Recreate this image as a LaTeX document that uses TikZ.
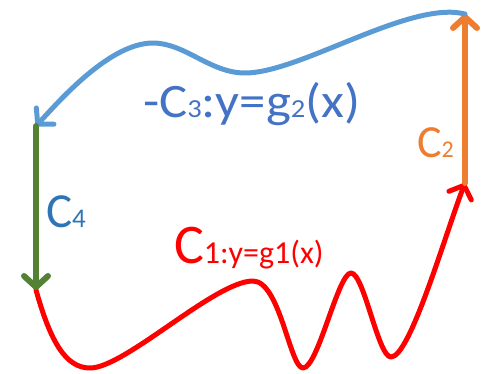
\documentclass[tikz,border=0pt]{standalone}
\usepackage{fontspec}
\usepackage{graphicx}
\setmainfont{Carlito}
\usetikzlibrary{arrows.meta}
\definecolor{cblue}{HTML}{5B9BD5}
\definecolor{cgreen}{HTML}{548235}
\definecolor{corange}{HTML}{ED7D31}
\definecolor{cred}{HTML}{FF0000}
\definecolor{tblue}{HTML}{4472C4}
\definecolor{tblueb}{HTML}{2E75B6}
\newcommand{\fs}[1]{\fontsize{#1}{#1}\selectfont}
\tikzset{
  curve/.style={line width=5pt, line cap=round, line join=round,
    -{Straight Barb[length=11pt,width=24pt,line cap=round,line join=round]}},
  lbl/.style={anchor=base west, inner sep=0pt, outer sep=0pt}
}
\begin{document}
\begin{tikzpicture}[x=1pt,y=-1pt]
\useasboundingbox (0,0) rectangle (487,373);
\coordinate (P1) at (36,290);
\coordinate (P2) at (465,183);
\coordinate (P3) at (465,14);
\coordinate (P4) at (36,126);
% C1 red
\draw[curve, cred] (P1) .. controls (50,340) and (65,368) .. (90,368)
  .. controls (125,368) and (215,281) .. (253,281)
  .. controls (280,281) and (290,368) .. (303,368)
  .. controls (318,368) and (338,273) .. (351,273)
  .. controls (364,273) and (378,357) .. (391,357)
  .. controls (410,357) and (445,235) .. (P2);
% C2 orange
\draw[curve, corange, line width=6pt] (P2) -- (P3);
% C3 blue
\draw[curve, cblue] (P3) .. controls (410,0) and (300,73) .. (245,73)
  .. controls (210,73) and (185,43) .. (153,43)
  .. controls (110,43) and (60,100) .. (P4);
% C4 green
\draw[curve, cgreen, line width=6pt] (P4) -- (P1);
% labels
\node[lbl, text=tblue] (L3) at (143,117) {\scalebox{1.1}[1]{\fs{48}-C\fs{26}3\fs{48}:y=g\fs{26}2\fs{48}(x)}};
\node[lbl, text=cred] (L1) at (174,263) {\fs{56}C\fs{32}1:y=g1(x)};
\node[lbl, text=corange] (L2) at (417,157) {\fs{46}C\fs{24}2};
\node[lbl, text=tblueb] (L4) at (46,227) {\fs{49}C\fs{27}4};
\end{tikzpicture}
\end{document}
